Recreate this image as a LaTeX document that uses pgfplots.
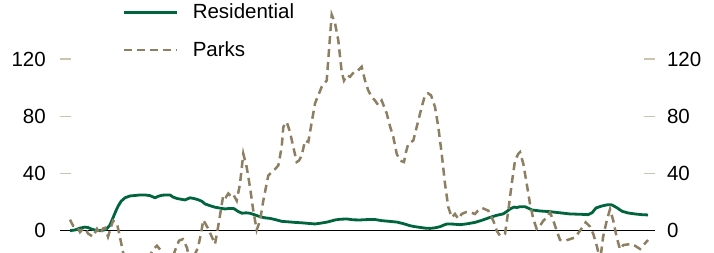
\documentclass[border=0pt]{standalone}
\usepackage{pgfplots}
\pgfplotsset{compat=1.18}
\usepackage{fontspec}
\setmainfont{Liberation Sans}
\definecolor{resgreen}{HTML}{00643C}
\definecolor{parkbrown}{HTML}{8C7F62}
\definecolor{tickbeige}{HTML}{CBC4AE}
\newcommand{\chartfont}{\fontsize{20.5bp}{24bp}\selectfont}
\begin{document}
\begin{tikzpicture}[x=1bp,y=1bp]
\path[use as bounding box] (0,0) rectangle (714,252);
\pgfplotsset{
  base/.style={
    at={(60bp,0bp)}, anchor=south west,
    scale only axis, width=595bp, height=252bp,
    xmin=60, xmax=655, ymin=-14.9, ymax=161.3,
    xtick=\empty, ytick={0,40,80,120},
    axis line style={draw=none},
    tick align=inside, major tick length=11bp,
    ytick style={draw=tickbeige, line width=1.5bp},
    /pgf/number format/assume math mode=true,
    clip=true,
  }
}
\begin{axis}[base,
  ytick pos=right, yticklabel pos=right,
  yticklabel style={font=\chartfont, anchor=west, inner xsep=0pt, xshift=11.8bp},
]
\addplot[draw=none, forget plot] coordinates {(60,0) (655,0)};
\end{axis}
\begin{axis}[base,
  ytick pos=left, yticklabel pos=left,
  yticklabel style={font=\chartfont, anchor=east, inner xsep=0pt, xshift=-14bp},
  legend style={at={(axis description cs:0.1058,0.992)}, anchor=north west,
    draw=none, fill=none, inner sep=0pt, outer sep=0pt, row sep=17.7bp,
    font=\chartfont, legend cell align=left,
    /tikz/every odd column/.append style={column sep=12bp}},
  legend image code/.code={\draw[#1] (0bp,0bp) -- (53bp,0bp);},
]
\addplot[black, line width=1.6bp, forget plot] coordinates {(60,0) (655,0)};
\addplot[resgreen, line width=2.8bp, line join=round] coordinates {
(70,0) (75,0.5) (80,1.8) (85,2.5) (88,2.2) (92,1) (96,0.3) (100,0) (104,0.5) (107,1.5)
(110,4) (113,9) (116,14) (118,17) (121,20.5) (125,23) (130,24.3) (135,24.6) (140,25) (145,25)
(150,24.5) (155,23) (158,24) (162,24.8) (167,25) (170,25) (173,23.5) (177,22.5) (181,22) (185,21.5)
(190,23) (194,22.5) (198,21.7) (202,20.5) (205,18.7) (210,17.5) (215,16.4) (220,15.8) (225,15.2) (230,15.6)
(234,15.4) (238,13.5) (242,12.2) (246,12.5) (250,12.2) (255,11) (260,9.8) (265,9) (270,8.6) (275,7.8)
(282,6.5) (288,6.2) (295,5.8) (302,5.5) (310,5) (315,4.7) (320,5.2) (327,6) (335,7.5) (340,8)
(347,8.2) (353,7.6) (360,7.5) (368,7.8) (375,7.8) (382,7) (390,6.5) (397,6) (403,5) (410,3.5)
(415,2.8) (420,2.3) (425,1.8) (430,1.6) (435,2) (440,2.8) (444,4) (447,4.7) (453,4.6) (460,4.2)
(467,4.8) (475,5.8) (482,7.3) (490,9.3) (497,10.8) (503,11.7) (507,13.5) (510,15.2) (514,16.5) (517,16.2)
(520,16.8) (525,16.8) (529,15.5) (532,14.5) (540,13.8) (550,13.3) (560,12.5) (570,11.7) (580,11.5) (588,11.2)
(592,12.5) (596,15.9) (602,17.3) (608,18.2) (612,18) (617,16) (622,13.6) (628,12.4) (635,11.7) (642,11.2) (648,11)
};
\addlegendentry{Residential}
\addplot[parkbrown, line width=2.5bp, dash pattern=on 8bp off 5bp] coordinates {
(70,7.7) (73,3.5) (77,2.8) (80,-1) (83,1.4) (86,0.8) (88,-2) (93,-4.2) (97,1.2) (100,-2.3)
(103,1.5) (105,2) (108,-4.2) (113,7) (117,5) (120,-4.7) (123,-15) (128,-28) (135,-32) (142,-28)
(148,-20) (153,-13) (157,-10.5) (161,-14) (166,-25) (172,-20) (176,-12) (179,-7) (183,-5.9) (187,-12)
(190,-22) (194,-18) (198,-11.7) (201,-2) (203.3,7.5) (208.3,1.2) (211,-3) (215,-9.4) (218.3,3.5) (221,15)
(223.3,25) (226,23.5) (228.3,26) (231,24) (233.3,25.3) (236.7,21) (240,32.8) (243.3,53.8) (246.7,44.4) (250,30.4)
(253.3,14) (256.7,0.5) (260,7) (263.3,21) (268.3,38.6) (271.7,41) (275,43) (278.3,45.6) (281.7,58.5) (283.3,72.5)
(286.7,76) (290,69) (293.3,58.5) (296.7,48) (299,49) (301.7,52.6) (305,63) (308.3,62) (312,77) (315,89)
(318.3,94.7) (321.7,100.6) (326.7,105) (330,135.7) (331.7,151) (335,145) (338.3,133) (341.7,111) (344,105) (347,108.8)
(350,107.6) (354,111) (358,112) (361.7,114.6) (365,105) (368.3,98) (371.7,93.5) (375,91) (378.3,87.7) (381.7,91)
(386.7,82) (390,73) (393.3,65.5) (396.7,53.8) (400,49) (404,48) (406,55) (408.3,60.8) (413.3,63) (418.3,77)
(421.7,86.5) (425,94.7) (428,96) (431,94.7) (435,86.5) (438.3,72.5) (441.7,53.8) (445,32.8) (448.3,16.4) (451.7,9.3)
(455,11.7) (458.3,8.2) (461.7,11.7) (466,13) (470,12.9) (475,11.7) (478,14) (482,15.9) (485,15) (488.3,14)
(493.3,7) (496.7,0) (500,-3.5) (505,-2.3) (508.3,14) (511.7,32.8) (515,49) (518.3,53.8) (520,55) (523.3,46.8)
(526.7,32.8) (530,18.7) (533.3,8.2) (536.7,1.2) (540,3.5) (543.3,7) (546.7,9.3) (550,12.9) (553.3,7) (556.7,0)
(560,-6.5) (565,-7) (570,-5.9) (575,-4.7) (580,0) (585.7,5.8) (590,2.8) (593.3,-2.3) (596.7,-10.5) (599,-17)
(601,-16) (603,-4.7) (606.7,7) (610,15) (613.3,7) (616.7,-4.7) (620,-13) (623.3,-10) (630,-9.4) (635,-10.5)
(640,-12.8) (648,-6.5)
};
\addlegendentry{Parks}
\end{axis}
\end{tikzpicture}
\end{document}
